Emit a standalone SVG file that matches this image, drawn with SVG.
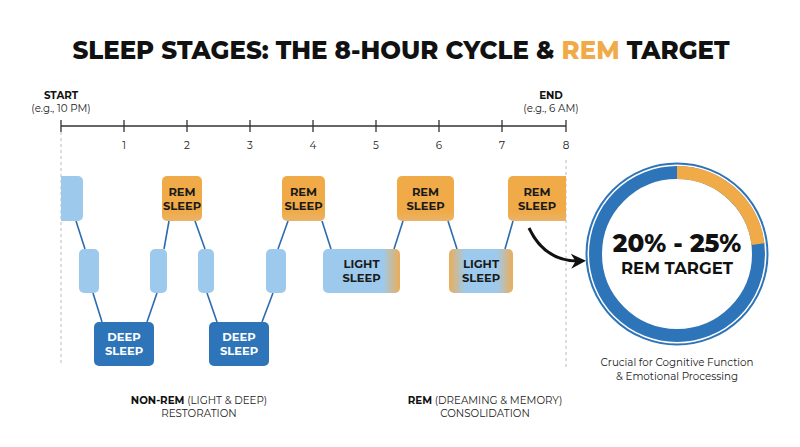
<svg xmlns="http://www.w3.org/2000/svg" width="800" height="447" viewBox="0 0 800 447">
<style>
  .t{font-family:"Montserrat","Inter","Liberation Sans",sans-serif;}
  .title{font-size:24.5px;font-weight:800;fill:#111;}
  .lbl{font-size:11.5px;font-weight:700;fill:#1a1a1a;text-anchor:middle;}
  .lblw{font-size:11.5px;font-weight:700;fill:#fff;text-anchor:middle;}
  .sm{font-size:10.3px;fill:#222;text-anchor:middle;}
  .smb{font-size:10.3px;font-weight:700;fill:#111;text-anchor:middle;}
  .axis{stroke:#333;stroke-width:1.3;fill:none;}
  .conn{stroke:#2b6cb0;stroke-width:1.6;fill:none;}
  .light{fill:#9dcaec;}
  .deep{fill:#2e74b8;}
  .dash{stroke:#bbb;stroke-width:1;stroke-dasharray:3 3;}
</style>
<defs>
  <linearGradient id="remg" x1="0" y1="0" x2="0" y2="1">
    <stop offset="0" stop-color="#f0ab48"/>
    <stop offset="0.8" stop-color="#f0ab48"/>
    <stop offset="1" stop-color="#e9b36a"/>
  </linearGradient>
  <linearGradient id="ls1" x1="0" y1="0" x2="1" y2="0">
    <stop offset="0" stop-color="#9dcaec"/>
    <stop offset="0.78" stop-color="#9dcaec"/>
    <stop offset="1" stop-color="#ecad58"/>
  </linearGradient>
  <linearGradient id="ls2" x1="0" y1="0" x2="1" y2="0">
    <stop offset="0" stop-color="#ecad58"/>
    <stop offset="0.25" stop-color="#9dcaec"/>
    <stop offset="0.75" stop-color="#9dcaec"/>
    <stop offset="1" stop-color="#ecad58"/>
  </linearGradient>
  <marker id="ah" viewBox="0 0 10 10" refX="6" refY="5" markerWidth="5" markerHeight="5" orient="auto">
    <path d="M0,0 L10,5 L0,10 L3,5 Z" fill="#111"/>
  </marker>
</defs>
<rect width="800" height="447" fill="#fff"/>

<text class="t title" x="401" y="59" text-anchor="middle">SLEEP STAGES: THE 8-HOUR CYCLE &amp; <tspan fill="#f0ab48">REM</tspan> TARGET</text>

<g id="timeline">
  <text class="t smb" x="61" y="99">START</text>
  <text class="t sm" x="61" y="112">(e.g., 10 PM)</text>
  <text class="t smb" x="551" y="99">END</text>
  <text class="t sm" x="551" y="112">(e.g., 6 AM)</text>
  <line class="axis" x1="61" y1="126" x2="566" y2="126"/>
  <path class="axis" d="M61,120V132M124,120V132M187,120V132M250,120V132M313,120V132M376,120V132M439,120V132M502,120V132M566,120V132"/>
  <text class="t sm" x="124" y="149">1</text>
  <text class="t sm" x="187" y="149">2</text>
  <text class="t sm" x="250" y="149">3</text>
  <text class="t sm" x="313" y="149">4</text>
  <text class="t sm" x="376" y="149">5</text>
  <text class="t sm" x="439" y="149">6</text>
  <text class="t sm" x="502" y="149">7</text>
  <text class="t sm" x="566" y="149">8</text>
  <line class="dash" x1="61" y1="132" x2="61" y2="366"/>
  <line class="dash" x1="566" y1="160" x2="566" y2="370"/>
</g>

<g id="connectors">
  <line class="conn" x1="76" y1="221" x2="85" y2="249"/>
  <line class="conn" x1="93" y1="293" x2="102" y2="322"/>
  <line class="conn" x1="147" y1="322" x2="157" y2="293"/>
  <line class="conn" x1="164" y1="249" x2="169" y2="221"/>
  <line class="conn" x1="195" y1="221" x2="205" y2="249"/>
  <line class="conn" x1="207" y1="293" x2="217" y2="322"/>
  <line class="conn" x1="262" y1="322" x2="273" y2="293"/>
  <line class="conn" x1="278" y1="249" x2="288" y2="221"/>
  <line class="conn" x1="322" y1="221" x2="331" y2="249"/>
  <line class="conn" x1="394" y1="249" x2="403" y2="221"/>
  <line class="conn" x1="448" y1="221" x2="457" y2="249"/>
  <line class="conn" x1="505" y1="249" x2="513" y2="221"/>
  <path d="M529,228 Q545,262 580,261" stroke="#111" stroke-width="3" fill="none" marker-end="url(#ah)"/>
</g>

<g id="start-block"><path class="light" d="M61,176H78a5,5 0 0 1 5,5V216a5,5 0 0 1 -5,5H61Z"/></g>
<g id="light-a"><rect class="light" x="79" y="249" width="20" height="44" rx="5"/></g>
<g id="deep-1"><rect class="deep" x="94" y="322" width="60" height="44" rx="5"/>
  <text class="t lblw" x="124" y="341">DEEP</text><text class="t lblw" x="124" y="355">SLEEP</text></g>
<g id="light-b"><rect class="light" x="150" y="249" width="17" height="44" rx="5"/></g>
<g id="rem-1"><rect fill="url(#remg)" x="162" y="176" width="40" height="45" rx="5"/>
  <text class="t lbl" x="182" y="196">REM</text><text class="t lbl" x="182" y="210">SLEEP</text></g>
<g id="light-c"><rect class="light" x="198" y="249" width="16" height="44" rx="5"/></g>
<g id="deep-2"><rect class="deep" x="209" y="322" width="60" height="44" rx="5"/>
  <text class="t lblw" x="239" y="341">DEEP</text><text class="t lblw" x="239" y="355">SLEEP</text></g>
<g id="light-d"><rect class="light" x="266" y="249" width="20" height="44" rx="5"/></g>
<g id="rem-2"><rect fill="url(#remg)" x="282" y="176" width="43" height="45" rx="5"/>
  <text class="t lbl" x="303.5" y="196">REM</text><text class="t lbl" x="303.5" y="210">SLEEP</text></g>
<g id="light-sleep-1"><rect fill="url(#ls1)" x="323" y="249" width="77" height="44" rx="5"/>
  <text class="t lbl" x="361.5" y="268">LIGHT</text><text class="t lbl" x="361.5" y="282">SLEEP</text></g>
<g id="rem-3"><rect fill="url(#remg)" x="397" y="176" width="57" height="45" rx="5"/>
  <text class="t lbl" x="425.5" y="196">REM</text><text class="t lbl" x="425.5" y="210">SLEEP</text></g>
<g id="light-sleep-2"><rect fill="url(#ls2)" x="449" y="249" width="64" height="44" rx="5"/>
  <text class="t lbl" x="481" y="268">LIGHT</text><text class="t lbl" x="481" y="282">SLEEP</text></g>
<g id="rem-4"><path fill="url(#remg)" d="M513,176H566V221H513a5,5 0 0 1 -5,-5V181a5,5 0 0 1 5,-5Z"/>
  <text class="t lbl" x="537" y="196">REM</text><text class="t lbl" x="537" y="210">SLEEP</text></g>

<g id="rem-target">
  <circle cx="677" cy="254" r="90.5" fill="none" stroke="#2e74b8" stroke-width="2"/>
  <circle cx="677" cy="254" r="81.5" fill="none" stroke="#2e74b8" stroke-width="13"/>
  <path d="M677,172.5 A81.5,81.5 0 0 1 757.9,244.1" fill="none" stroke="#f0ab48" stroke-width="13"/>
  <text class="t" x="677" y="252" text-anchor="middle" font-size="24.5" font-weight="800" fill="#111">20% - 25%</text>
  <text class="t" x="677" y="274" text-anchor="middle" font-size="16.5" font-weight="700" fill="#111">REM TARGET</text>
  <text class="t sm" x="677" y="366" font-size="11.5" fill="#333">Crucial for Cognitive Function</text>
  <text class="t sm" x="677" y="380" font-size="11.5" fill="#333">&amp; Emotional Processing</text>
</g>

<g id="legend">
  <text class="t sm" x="199" y="404" font-size="10.8"><tspan font-weight="700" fill="#111">NON-REM</tspan> (LIGHT &amp; DEEP)</text>
  <text class="t sm" x="199" y="417" font-size="10.8">RESTORATION</text>
  <text class="t sm" x="485" y="404" font-size="10.8"><tspan font-weight="700" fill="#111">REM</tspan> (DREAMING &amp; MEMORY)</text>
  <text class="t sm" x="485" y="417" font-size="10.8">CONSOLIDATION</text>
</g>
</svg>
